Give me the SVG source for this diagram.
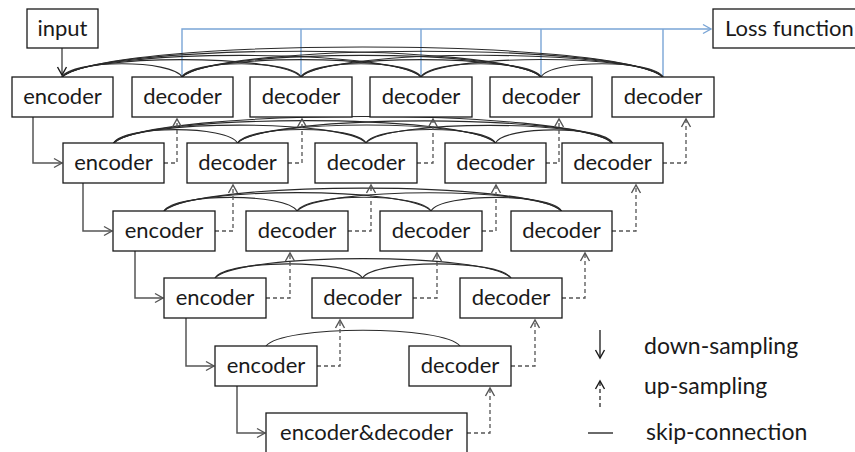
<svg xmlns="http://www.w3.org/2000/svg" width="855" height="452" viewBox="0 0 855 452">
<style>
.box{fill:#fff;stroke:#1a1a1a;stroke-width:1.3}
.t{font-family:Lato,"Open Sans","Liberation Sans",sans-serif;font-size:22px;fill:#1a1a1a;text-anchor:middle}
.lt{font-family:Lato,"Open Sans","Liberation Sans",sans-serif;font-size:23px;fill:#1a1a1a}
.down{fill:none;stroke:#555;stroke-width:1.5}
.up{fill:none;stroke:#555;stroke-width:1.3;stroke-dasharray:4 3}
.skip{fill:none;stroke:#2a2a2a;stroke-width:1.1}
.blue{fill:none;stroke:#7aa5d6;stroke-width:1.4}
</style>
<defs>
<marker id="ah" markerUnits="userSpaceOnUse" markerWidth="10" markerHeight="10" refX="8" refY="4.5" orient="auto" overflow="visible"><path d="M0,0 L8,4.5 L0,9" fill="none" stroke="#555" stroke-width="1.4"/></marker>
<marker id="ahd" markerUnits="userSpaceOnUse" markerWidth="10" markerHeight="10" refX="8" refY="4.5" orient="auto" overflow="visible"><path d="M0,0 L8,4.5 L0,9" fill="none" stroke="#1a1a1a" stroke-width="1.4"/></marker>
<marker id="ahb" markerUnits="userSpaceOnUse" markerWidth="10" markerHeight="10" refX="8" refY="4.5" orient="auto" overflow="visible"><path d="M0,0 L8,4.5 L0,9" fill="none" stroke="#7aa5d6" stroke-width="1.4"/></marker>
</defs>
<rect width="855" height="452" fill="#fff"/>

<g id="connectors">
<!-- loss (blue) -->
<path class="blue" d="M182,76 V29 H711" marker-end="url(#ahb)"/>
<path class="blue" d="M301,76 V29 M421,76 V29 M541,76 V29 M663,76 V29"/>
<!-- input to encoder -->
<path class="skip" d="M62,48 V75" marker-end="url(#ahd)" style="stroke:#1a1a1a"/>
<!-- skip connections row 1 -->
<path class="skip" d="M62,77 C71.6,59.4 172.4,59.4 182,77"/>
<path class="skip" d="M62,77 C81.1,53.8 281.9,53.8 301,77"/>
<path class="skip" d="M62,77 C90.7,48.2 392.3,48.2 421,77"/>
<path class="skip" d="M62,77 C100.3,42.6 502.7,42.6 541,77"/>
<path class="skip" d="M62,77 C110.1,37 614.9,37 663,77"/>
<path class="skip" d="M182,77 C191.5,59.4 291.5,59.4 301,77"/>
<path class="skip" d="M182,77 C201.1,53.8 401.9,53.8 421,77"/>
<path class="skip" d="M182,77 C210.7,48.2 512.3,48.2 541,77"/>
<path class="skip" d="M182,77 C220.5,42.6 624.5,42.6 663,77"/>
<path class="skip" d="M301,77 C310.6,59.4 411.4,59.4 421,77"/>
<path class="skip" d="M301,77 C320.2,53.8 521.8,53.8 541,77"/>
<path class="skip" d="M301,77 C330,48.1 634,48.1 663,77"/>
<path class="skip" d="M421,77 C430.6,59.4 531.4,59.4 541,77"/>
<path class="skip" d="M421,77 C440.4,53.7 643.6,53.7 663,77"/>
<path class="skip" d="M541,77 C550.8,59.3 653.2,59.3 663,77"/>
<!-- skip connections row 2 -->
<path class="skip" d="M113.5,143 C123.4,125.2 227.6,125.2 237.5,143"/>
<path class="skip" d="M113.5,143 C133.7,119.2 345.8,119.2 366,143"/>
<path class="skip" d="M113.5,143 C144.1,113.2 464.9,113.2 495.5,143"/>
<path class="skip" d="M113.5,143 C153.4,107.7 572.6,107.7 612.5,143"/>
<path class="skip" d="M237.5,143 C247.8,125 355.7,125 366,143"/>
<path class="skip" d="M237.5,143 C258.1,119 474.9,119 495.5,143"/>
<path class="skip" d="M237.5,143 C267.5,113.5 582.5,113.5 612.5,143"/>
<path class="skip" d="M366,143 C376.4,125 485.1,125 495.5,143"/>
<path class="skip" d="M366,143 C385.7,119.5 592.8,119.5 612.5,143"/>
<path class="skip" d="M495.5,143 C504.9,125.5 603.1,125.5 612.5,143"/>
<!-- skip connections row 3 -->
<path class="skip" d="M164,211 C174.6,192.8 286.4,192.8 297,211"/>
<path class="skip" d="M164,211 C185.4,186.5 409.6,186.5 431,211"/>
<path class="skip" d="M164,211 C195.8,180.5 529.7,180.5 561.5,211"/>
<path class="skip" d="M297,211 C307.7,192.7 420.3,192.7 431,211"/>
<path class="skip" d="M297,211 C318.2,186.7 540.3,186.7 561.5,211"/>
<path class="skip" d="M431,211 C441.4,192.9 551.1,192.9 561.5,211"/>
<!-- skip connections row 4 -->
<path class="skip" d="M215,278 C226.8,259.1 350.7,259.1 362.5,278"/>
<path class="skip" d="M215,278 C238.7,252.2 487.3,252.2 511,278"/>
<path class="skip" d="M362.5,278 C374.4,259.1 499.1,259.1 511,278"/>
<!-- skip connection row 5 -->
<path class="skip" d="M266,346 C281.5,325 444.5,325 460,346"/>

<!-- down-sampling -->
<path class="down" d="M33,117 V163 H62" marker-end="url(#ah)"/>
<path class="down" d="M83,183 V231 H112" marker-end="url(#ah)"/>
<path class="down" d="M135,251 V298 H163" marker-end="url(#ah)"/>
<path class="down" d="M186,318 V366 H214" marker-end="url(#ah)"/>
<path class="down" d="M237,386 V433 H265" marker-end="url(#ah)"/>

<!-- up-sampling -->
<path class="up" d="M164,163 H177 V119" marker-end="url(#ah)"/>
<path class="up" d="M288,163 H302 V119" marker-end="url(#ah)"/>
<path class="up" d="M417,163 H433 V119" marker-end="url(#ah)"/>
<path class="up" d="M546,163 H559 V119" marker-end="url(#ah)"/>
<path class="up" d="M663,163 H686 V119" marker-end="url(#ah)"/>

<path class="up" d="M215,231 H233 V185" marker-end="url(#ah)"/>
<path class="up" d="M348,231 H371 V185" marker-end="url(#ah)"/>
<path class="up" d="M482,231 H496 V185" marker-end="url(#ah)"/>
<path class="up" d="M612,231 H636 V185" marker-end="url(#ah)"/>

<path class="up" d="M266,298 H290 V253" marker-end="url(#ah)"/>
<path class="up" d="M413,298 H437 V253" marker-end="url(#ah)"/>
<path class="up" d="M562,298 H585 V253" marker-end="url(#ah)"/>

<path class="up" d="M317,366 H340 V320" marker-end="url(#ah)"/>
<path class="up" d="M511,366 H535 V320" marker-end="url(#ah)"/>

<path class="up" d="M467,433 H490 V388" marker-end="url(#ah)"/>
</g>

<g id="input"><rect class="box" x="27" y="9" width="71" height="39"/><text class="t" x="62.5" y="36">input</text></g>
<g id="loss"><rect class="box" x="713" y="9" width="160" height="39"/><text class="lt" x="725" y="36" style="font-size:22px">Loss function</text></g>

<g id="enc1"><rect class="box" x="12" y="77" width="101" height="40"/><text class="t" x="62.5" y="104">encoder</text></g>
<g id="dec1_1"><rect class="box" x="132" y="77" width="101" height="40"/><text class="t" x="182.5" y="104">decoder</text></g>
<g id="dec1_2"><rect class="box" x="250" y="77" width="102" height="40"/><text class="t" x="301" y="104">decoder</text></g>
<g id="dec1_3"><rect class="box" x="370" y="77" width="102" height="40"/><text class="t" x="421" y="104">decoder</text></g>
<g id="dec1_4"><rect class="box" x="490" y="77" width="102" height="40"/><text class="t" x="541" y="104">decoder</text></g>
<g id="dec1_5"><rect class="box" x="612" y="77" width="102" height="40"/><text class="t" x="663" y="104">decoder</text></g>

<g id="enc2"><rect class="box" x="63" y="143" width="101" height="40"/><text class="t" x="113.5" y="170">encoder</text></g>
<g id="dec2_1"><rect class="box" x="187" y="143" width="101" height="40"/><text class="t" x="237.5" y="170">decoder</text></g>
<g id="dec2_2"><rect class="box" x="315" y="143" width="102" height="40"/><text class="t" x="366" y="170">decoder</text></g>
<g id="dec2_3"><rect class="box" x="445" y="143" width="101" height="40"/><text class="t" x="495.5" y="170">decoder</text></g>
<g id="dec2_4"><rect class="box" x="562" y="143" width="101" height="40"/><text class="t" x="612.5" y="170">decoder</text></g>

<g id="enc3"><rect class="box" x="113" y="211" width="102" height="40"/><text class="t" x="164" y="238">encoder</text></g>
<g id="dec3_1"><rect class="box" x="246" y="211" width="102" height="40"/><text class="t" x="297" y="238">decoder</text></g>
<g id="dec3_2"><rect class="box" x="380" y="211" width="102" height="40"/><text class="t" x="431" y="238">decoder</text></g>
<g id="dec3_3"><rect class="box" x="511" y="211" width="101" height="40"/><text class="t" x="561.5" y="238">decoder</text></g>

<g id="enc4"><rect class="box" x="164" y="278" width="102" height="40"/><text class="t" x="215" y="305">encoder</text></g>
<g id="dec4_1"><rect class="box" x="312" y="278" width="101" height="40"/><text class="t" x="362.5" y="305">decoder</text></g>
<g id="dec4_2"><rect class="box" x="460" y="278" width="102" height="40"/><text class="t" x="511" y="305">decoder</text></g>

<g id="enc5"><rect class="box" x="215" y="346" width="102" height="40"/><text class="t" x="266" y="373">encoder</text></g>
<g id="dec5_1"><rect class="box" x="409" y="346" width="102" height="40"/><text class="t" x="460" y="373">decoder</text></g>

<g id="encdec"><rect class="box" x="266" y="413" width="201" height="41"/><text class="t" x="366.5" y="440">encoder&amp;decoder</text></g>

<g id="legend">
<path d="M600,330 V358" fill="none" stroke="#1a1a1a" stroke-width="1.3" marker-end="url(#ahd)"/>
<text class="lt" x="644" y="354">down-sampling</text>
<path d="M600,407 V381" fill="none" stroke="#1a1a1a" stroke-width="1.2" stroke-dasharray="4 3" marker-end="url(#ahd)"/>
<text class="lt" x="644" y="394">up-sampling</text>
<path d="M588,433 H613" fill="none" stroke="#1a1a1a" stroke-width="1.3"/>
<text class="lt" x="646" y="440">skip-connection</text>
</g>
</svg>
